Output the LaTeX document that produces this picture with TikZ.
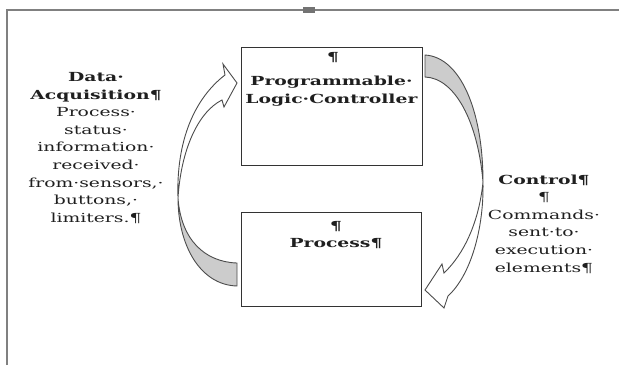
\documentclass[tikz,border=0pt]{standalone}
\usepackage{fontspec}
\setmainfont{DejaVu Serif}[FakeStretch=1.5]
\begin{document}
\begin{tikzpicture}[x=1pt,y=-1pt,
  frameline/.style={draw=black!50, line width=1.3pt},
  boxnode/.style={draw=black!80, line width=0.9pt, inner sep=0pt},
  txt/.style={font=\fontsize{12.5}{17.6}\selectfont, align=center, text=black!88, inner sep=0pt},
  arrowline/.style={draw=black!70, line width=0.9pt, line join=miter},
  backpart/.style={arrowline, fill=black!20},
  frontpart/.style={arrowline, fill=white}]
\useasboundingbox (0,0) rectangle (619,365);
% frame
\draw[frameline] (7,365) -- (7,10) -- (619,10);
\fill[black!55] (303,7) rectangle (315,13);
% boxes
\node[boxnode, minimum width=181pt, minimum height=118pt] (plc) at (331.5,106) {};
\node[boxnode, minimum width=180pt, minimum height=94pt] (proc) at (331,259) {};
% box texts
\node[txt] (plcpil) at (333,58) {\textbf{¶}};
\node[txt] (plctext) at (331.5,91) {\textbf{Programmable·}\\\textbf{Logic·Controller}};
\node[txt] (proctext) at (336,235) {\textbf{¶}\\\textbf{Process¶}};
% side texts
\node[txt] (acq) at (96,148) {\textbf{Data·}\\\textbf{Acquisition¶}\\Process·\\status·\\information·\\received·\\from·sensors,·\\buttons,·\\limiters.¶};
\node[txt] (ctrl) at (544,224) {\textbf{Control¶}\\¶\\Commands·\\sent·to·\\execution·\\elements¶};
% left curved arrow (Process -> PLC)
\draw[backpart] (237,286) .. controls (200,285) and (178,245) .. (178,198)
  .. controls (181,240) and (205,262) .. (237,263) -- cycle;
\draw[frontpart] (178,198) .. controls (176,140) and (195,98) .. (225,75)
  -- (223,64) -- (237,83) -- (224,107) -- (222,100)
  .. controls (198,112) and (181,150) .. (178,198) -- cycle;
% right curved arrow (PLC -> Process)
\draw[backpart] (425,55) .. controls (460,57) and (483,110) .. (483,182)
  .. controls (478,122) and (455,78) .. (425,77) -- cycle;
\draw[frontpart] (483,182) .. controls (484,228) and (471,275) .. (448,296)
  -- (444,308) -- (425,290) -- (442,264) -- (444,273)
  .. controls (464,254) and (479,222) .. (483,182) -- cycle;
\end{tikzpicture}
\end{document}
